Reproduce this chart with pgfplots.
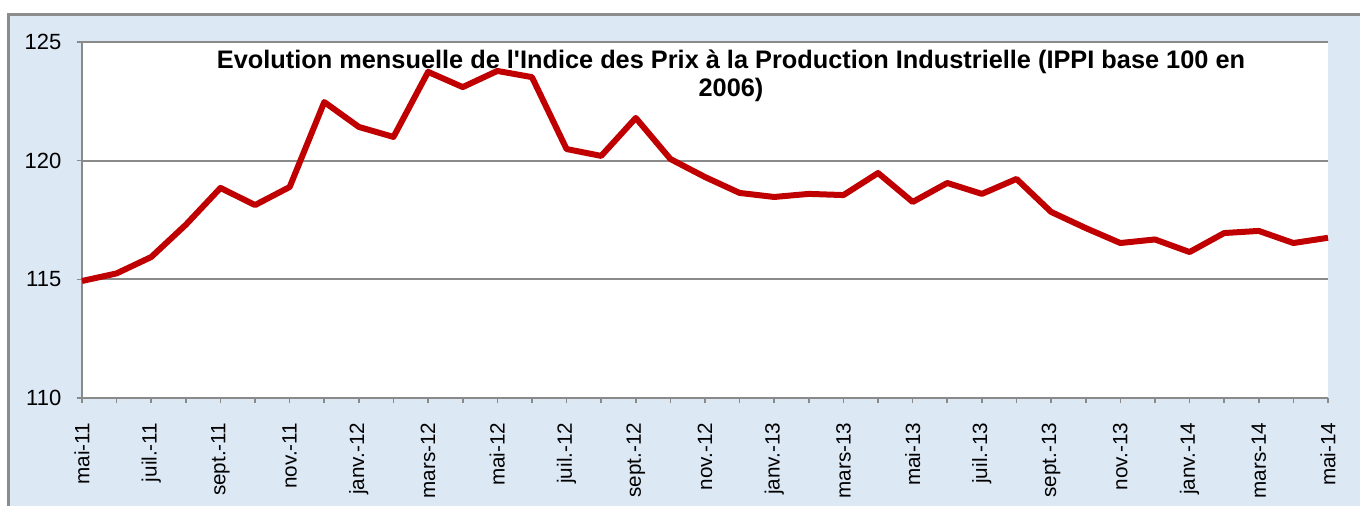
\documentclass[border=0pt]{standalone}
\usepackage{fontspec}
\setmainfont{Liberation Sans}
\usepackage{pgfplots}
\pgfplotsset{compat=1.18}
\definecolor{bgblue}{HTML}{DDE8F5}
\definecolor{framegray}{HTML}{8C8C8C}
\definecolor{gridgray}{HTML}{8A8A8A}
\definecolor{linered}{HTML}{C00000}
\begin{document}
\begin{tikzpicture}[x=0.75pt,y=0.75pt]
\path[use as bounding box] (0,0) rectangle (1360,506);
\fill[white] (0,0) rectangle (1360,506);
\fill[bgblue] (7,0) rectangle (1360,492);
\draw[framegray, line width=2.25pt] (8,0) -- (8,491) -- (1360,491);
\begin{axis}[
  at={(61.5pt,81pt)}, anchor=south west,
  scale only axis, width=934.5pt, height=267pt,
  xmin=0, xmax=36, ymin=110, ymax=125,
  axis background/.style={fill=white},
  axis lines*=left,
  axis line style={gridgray, line width=1.4pt},
  ytick={110,115,120,125},
  ymajorgrids, grid style={gridgray, line width=1.4pt},
  xtick={0,...,36},
  xticklabels={mai-11,,juil.-11,,sept.-11,,nov.-11,,janv.-12,,mars-12,,mai-12,,juil.-12,,sept.-12,,nov.-12,,janv.-13,,mars-13,,mai-13,,juil.-13,,sept.-13,,nov.-13,,janv.-14,,mars-14,,mai-14},
  tick align=outside,
  major tick length=4pt,
  tick style={gridgray, line width=1.2pt},
  /pgf/number format/assume math mode=true,
  yticklabel style={font=\fontsize{16.5}{16.5}\selectfont, xshift=-8pt},
  xticklabel style={font=\fontsize{15.5}{15.5}\selectfont, rotate=90, anchor=east, xshift=-11pt},
  clip=false,
]
\addplot[linered, line width=4.5pt, line join=round] coordinates {
(0,114.93) (1,115.25) (2,115.94) (3,117.3) (4,118.85) (5,118.13) (6,118.89)
(7,122.47) (8,121.42) (9,121.0) (10,123.74) (11,123.1) (12,123.78) (13,123.52)
(14,120.49) (15,120.2) (16,121.8) (17,120.07) (18,119.31) (19,118.64) (20,118.47)
(21,118.6) (22,118.55) (23,119.48) (24,118.26) (25,119.06) (26,118.6) (27,119.23)
(28,117.84) (29,117.16) (30,116.53) (31,116.68) (32,116.15) (33,116.95) (34,117.04)
(35,116.53) (36,116.75)
};
\end{axis}
\node[align=center, font=\bfseries\fontsize{19}{21}\selectfont] at (731,430) {Evolution mensuelle de l\textquotesingle Indice des Prix à la Production Industrielle (IPPI base 100 en\\2006)};
\end{tikzpicture}
\end{document}
